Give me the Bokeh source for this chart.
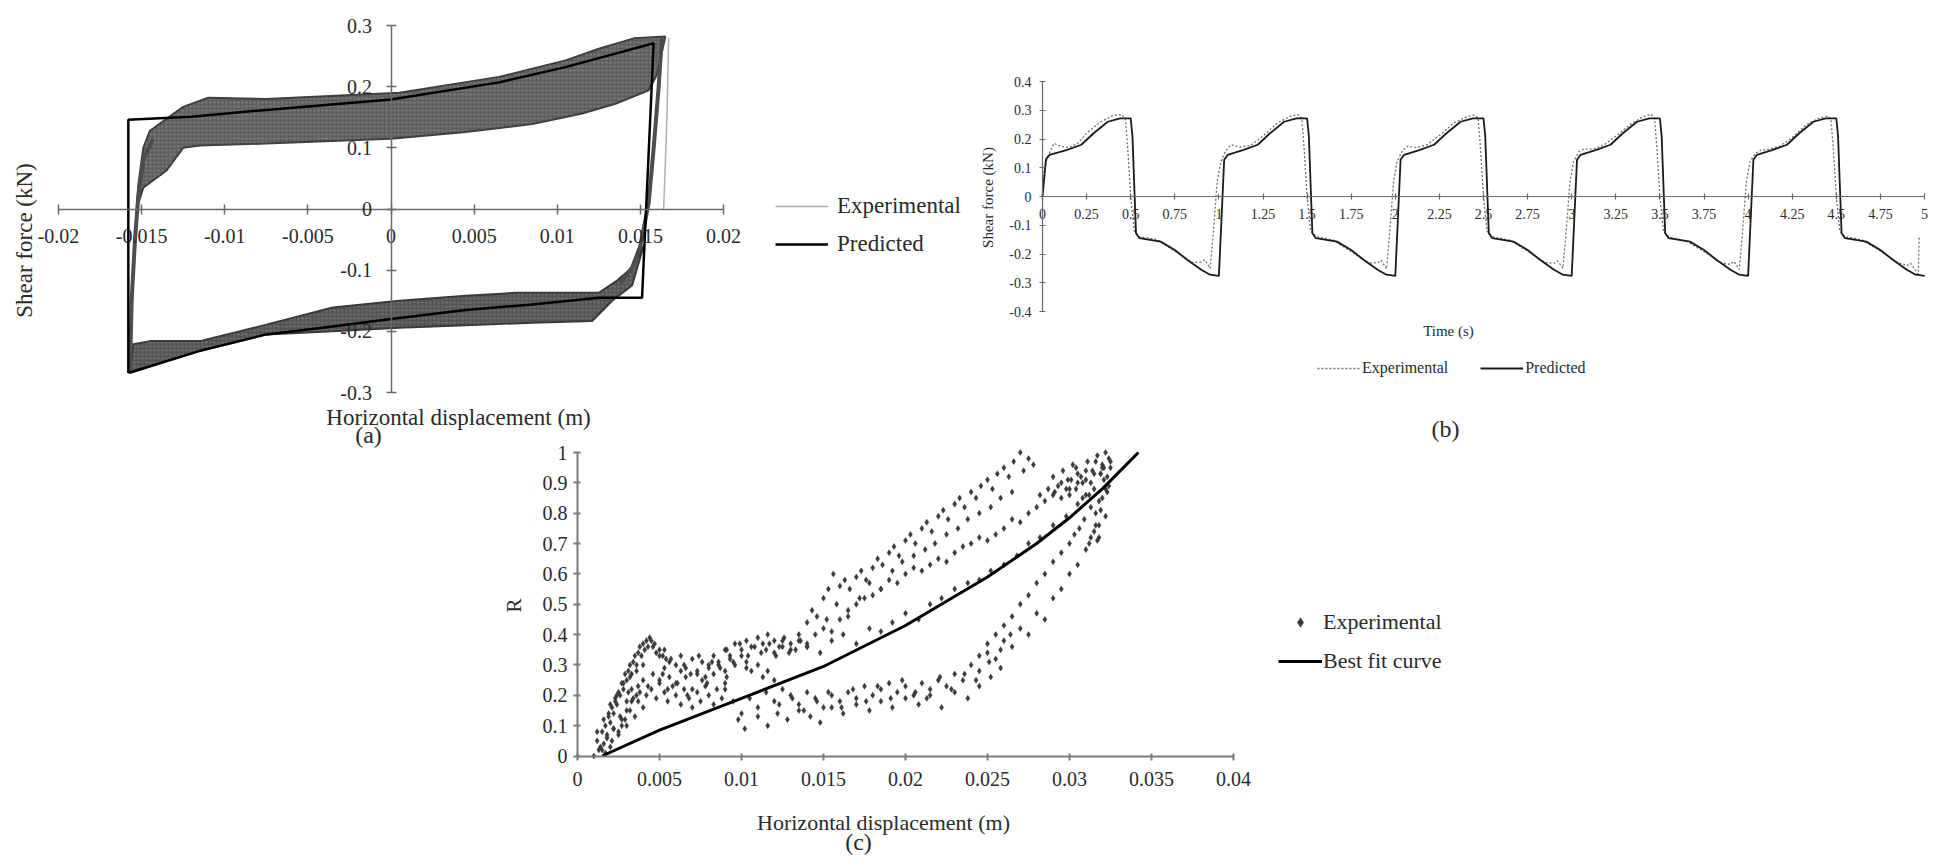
from math import pi
from bokeh.plotting import figure
from bokeh.models import (Range1d, LinearAxis, FixedTicker, CustomJSTickFormatter,
                          Label, Legend, LegendItem)
from bokeh.embed import file_html
from bokeh.resources import INLINE

W, H = 1933, 867
FONT = "Liberation Serif"
TXT = "#2a2a2a"

# ---------------- (a) hysteresis: shear force vs horizontal displacement ----------
a_xticks = [-0.02, -0.015, -0.01, -0.005, 0, 0.005, 0.01, 0.015, 0.02]
a_yticks = [-0.3, -0.2, -0.1, 0, 0.1, 0.2, 0.3]
pred_a_x = [-0.0158, -0.0158, -0.0120, -0.0075, 0.0000, 0.0065, 0.0105, 0.0135, 0.0158,
            0.0151, 0.0125, 0.0085, 0.0045, 0.0000, -0.0035, -0.0075, -0.0115, -0.0158]
pred_a_y = [-0.268, 0.146, 0.151, 0.162, 0.179, 0.207, 0.232, 0.254, 0.271,
            -0.145, -0.145, -0.156, -0.165, -0.180, -0.192, -0.205, -0.232, -0.268]
exp_up_x = [-0.0153, -0.0149, -0.0135, -0.0125, -0.0115, -0.0075, 0.0000, 0.0045, 0.0085,
            0.0115, 0.0135, 0.0155, 0.0160, 0.0165, 0.0146, 0.0125, 0.0105, 0.0065, 0.0005,
            -0.0075, -0.0110, -0.0125, -0.0145, -0.0149, -0.0152]
exp_up_y = [0.000, 0.035, 0.063, 0.100, 0.104, 0.107, 0.115, 0.126, 0.139,
            0.156, 0.172, 0.194, 0.220, 0.282, 0.279, 0.262, 0.243, 0.216, 0.190,
            0.180, 0.182, 0.167, 0.128, 0.100, 0.040]
exp_lo_x = [0.0152, 0.0145, 0.0136, 0.0125, 0.0075, 0.0045, 0.0005, -0.0035, -0.0075,
            -0.0115, -0.0145, -0.0155, -0.0157, -0.0115, -0.0075, -0.0035, 0.0005, 0.0045,
            0.0085, 0.0121, 0.0133, 0.0145]
exp_lo_y = [-0.060, -0.096, -0.117, -0.137, -0.137, -0.142, -0.150, -0.161, -0.189,
            -0.216, -0.216, -0.221, -0.268, -0.232, -0.205, -0.200, -0.194, -0.190,
            -0.186, -0.183, -0.150, -0.125]
exp_r_x = [0.0163, 0.0161, 0.0158, 0.0155, 0.0150, 0.0145, 0.0138]
exp_r_y = [0.282, 0.200, 0.100, 0.010, -0.060, -0.096, -0.120]
exp_l_x = [-0.0157, -0.0156, -0.0154, -0.0152, -0.0149, -0.0143]
exp_l_y = [-0.266, -0.150, -0.050, 0.020, 0.080, 0.115]
exp_f_x = [0.0167, 0.0166, 0.0164]
exp_f_y = [0.280, 0.150, 0.000]

# ---------------- (b) shear force vs time ----------------
b_xticks = [0, 0.25, 0.5, 0.75, 1, 1.25, 1.5, 1.75, 2, 2.25, 2.5, 2.75, 3, 3.25, 3.5,
            3.75, 4, 4.25, 4.5, 4.75, 5]
b_yticks = [-0.4, -0.3, -0.2, -0.1, 0, 0.1, 0.2, 0.3, 0.4]
t_pred_b = [0.00, 0.02, 0.04, 0.14, 0.22, 0.29, 0.37, 0.44, 0.50, 0.51, 0.53, 0.55, 0.67, 0.75, 0.82, 0.90, 0.95, 1.00,
            1.03, 1.05, 1.14, 1.22, 1.29, 1.37, 1.44, 1.50, 1.51, 1.53, 1.55, 1.67, 1.75, 1.82, 1.90, 1.95, 2.00,
            2.03, 2.05, 2.14, 2.22, 2.29, 2.37, 2.44, 2.50, 2.51, 2.53, 2.55, 2.67, 2.75, 2.82, 2.90, 2.95, 3.00,
            3.03, 3.05, 3.14, 3.22, 3.29, 3.37, 3.44, 3.50, 3.51, 3.53, 3.55, 3.67, 3.75, 3.82, 3.90, 3.95, 4.00,
            4.03, 4.05, 4.14, 4.22, 4.29, 4.37, 4.44, 4.50, 4.51, 4.53, 4.55, 4.67, 4.75, 4.82, 4.90, 4.95, 5.00]
v_pred_b = [0.000, 0.130, 0.145, 0.162, 0.180, 0.220, 0.260, 0.272, 0.272, 0.210, -0.128, -0.145, -0.157, -0.186, -0.220, -0.255, -0.272, -0.276,
            0.128, 0.145, 0.162, 0.180, 0.220, 0.260, 0.272, 0.272, 0.210, -0.128, -0.145, -0.157, -0.186, -0.220, -0.255, -0.272, -0.276,
            0.128, 0.145, 0.162, 0.180, 0.220, 0.260, 0.272, 0.272, 0.210, -0.128, -0.145, -0.157, -0.186, -0.220, -0.255, -0.272, -0.276,
            0.128, 0.145, 0.162, 0.180, 0.220, 0.260, 0.272, 0.272, 0.210, -0.128, -0.145, -0.157, -0.186, -0.220, -0.255, -0.272, -0.276,
            0.128, 0.145, 0.162, 0.180, 0.220, 0.260, 0.272, 0.272, 0.210, -0.128, -0.145, -0.157, -0.186, -0.220, -0.255, -0.272, -0.276]
t_exp_b = [0.00, 0.01, 0.03, 0.065, 0.10, 0.15, 0.20, 0.25, 0.33, 0.40, 0.45, 0.47, 0.485, 0.50, 0.52, 0.55, 0.60, 0.65, 0.75, 0.85, 0.90, 0.92, 0.95, 0.965, 0.98, 0.99,
           1.01, 1.04, 1.07, 1.12, 1.18, 1.25, 1.33, 1.40, 1.45, 1.47, 1.485, 1.50, 1.52, 1.55, 1.60, 1.65, 1.75, 1.85, 1.90, 1.92, 1.95, 1.965, 1.98, 1.99,
           2.01, 2.04, 2.07, 2.12, 2.18, 2.25, 2.33, 2.40, 2.45, 2.47, 2.485, 2.50, 2.52, 2.55, 2.60, 2.65, 2.75, 2.85, 2.90, 2.92, 2.95, 2.965, 2.98, 2.99,
           3.01, 3.04, 3.07, 3.12, 3.18, 3.25, 3.33, 3.40, 3.45, 3.47, 3.485, 3.50, 3.52, 3.55, 3.60, 3.65, 3.75, 3.85, 3.90, 3.92, 3.95, 3.965, 3.98, 3.99,
           4.01, 4.04, 4.07, 4.12, 4.18, 4.25, 4.33, 4.40, 4.45, 4.47, 4.485, 4.50, 4.52, 4.55, 4.60, 4.65, 4.75, 4.85, 4.90, 4.92, 4.95, 4.965, 4.97]
v_exp_b = [0.000, 0.100, 0.140, 0.185, 0.175, 0.170, 0.185, 0.220, 0.260, 0.282, 0.285, 0.270, 0.150, 0.000, -0.120, -0.140, -0.145, -0.150, -0.190, -0.230, -0.228, -0.220, -0.250, -0.150, -0.030, 0.050,
           0.120, 0.160, 0.180, 0.172, 0.178, 0.210, 0.255, 0.278, 0.285, 0.272, 0.150, 0.000, -0.120, -0.140, -0.145, -0.152, -0.192, -0.232, -0.230, -0.222, -0.252, -0.150, -0.030, 0.050,
           0.120, 0.160, 0.175, 0.170, 0.180, 0.212, 0.255, 0.276, 0.284, 0.272, 0.150, 0.000, -0.120, -0.140, -0.146, -0.152, -0.190, -0.230, -0.232, -0.224, -0.250, -0.150, -0.030, 0.050,
           0.120, 0.155, 0.165, 0.165, 0.178, 0.210, 0.250, 0.276, 0.286, 0.272, 0.150, 0.000, -0.120, -0.140, -0.148, -0.155, -0.192, -0.232, -0.236, -0.226, -0.254, -0.150, -0.030, 0.050,
           0.120, 0.150, 0.160, 0.165, 0.175, 0.205, 0.250, 0.272, 0.280, 0.268, 0.150, 0.000, -0.120, -0.140, -0.145, -0.152, -0.190, -0.230, -0.240, -0.232, -0.258, -0.270, -0.140]

# ---------------- (c) R vs horizontal displacement ----------------
c_xticks = [0, 0.005, 0.01, 0.015, 0.02, 0.025, 0.03, 0.035, 0.04]
c_yticks = [0, 0.1, 0.2, 0.3, 0.4, 0.5, 0.6, 0.7, 0.8, 0.9, 1.0]
fit_x = [0.0015, 0.005, 0.010, 0.015, 0.020, 0.025, 0.028, 0.030, 0.032, 0.0342]
fit_y = [0.0, 0.085, 0.19, 0.295, 0.43, 0.59, 0.70, 0.785, 0.88, 1.0]
cA_x = [0.0010, 0.0012, 0.0013, 0.0015, 0.0016, 0.0017, 0.0018, 0.0019, 0.0020, 0.0021, 0.0022, 0.0023, 0.0024, 0.0025,
        0.0026, 0.0027, 0.0028, 0.0029, 0.0030, 0.0031, 0.0032, 0.0033, 0.0034, 0.0035, 0.0036, 0.0037, 0.0038, 0.0039,
        0.0040, 0.0041, 0.0042, 0.0043, 0.0044, 0.0045, 0.0046, 0.0047, 0.0048, 0.0050, 0.0052, 0.0054]
cA_y = [0.00, 0.05, 0.02, 0.08, 0.04, 0.10, 0.07, 0.13, 0.11, 0.16, 0.14, 0.19, 0.17, 0.21,
        0.20, 0.24, 0.22, 0.27, 0.25, 0.28, 0.30, 0.27, 0.31, 0.33, 0.30, 0.34, 0.36, 0.33,
        0.37, 0.35, 0.38, 0.36, 0.39, 0.38, 0.36, 0.37, 0.34, 0.35, 0.33, 0.32]
cB_x = [0.0015, 0.0018, 0.0020, 0.0022, 0.0025, 0.0027, 0.0030, 0.0032, 0.0035, 0.0037, 0.0040, 0.0042, 0.0045, 0.0048,
        0.0050, 0.0053, 0.0055, 0.0058, 0.0060, 0.0063, 0.0065, 0.0068, 0.0070, 0.0073, 0.0075, 0.0078, 0.0080, 0.0083,
        0.0085, 0.0088, 0.0090]
cB_y = [0.02, 0.06, 0.03, 0.09, 0.07, 0.12, 0.10, 0.15, 0.13, 0.18, 0.16, 0.20, 0.22, 0.19,
        0.24, 0.21, 0.18, 0.23, 0.20, 0.17, 0.22, 0.19, 0.16, 0.21, 0.18, 0.23, 0.20, 0.17,
        0.22, 0.19, 0.24]
cC_x = [0.0030, 0.0033, 0.0036, 0.0040, 0.0043, 0.0046, 0.0050, 0.0053, 0.0056, 0.0060, 0.0063, 0.0066, 0.0070, 0.0073,
        0.0076, 0.0080, 0.0083, 0.0086, 0.0090, 0.0093, 0.0096, 0.0100, 0.0103, 0.0106, 0.0110, 0.0113, 0.0116, 0.0120]
cC_y = [0.18, 0.22, 0.20, 0.25, 0.23, 0.27, 0.25, 0.29, 0.26, 0.24, 0.28, 0.26, 0.22, 0.27,
        0.25, 0.29, 0.27, 0.30, 0.28, 0.32, 0.30, 0.33, 0.31, 0.28, 0.30, 0.26, 0.28, 0.25]
cD_x = [0.0050, 0.0053, 0.0056, 0.0060, 0.0063, 0.0066, 0.0070, 0.0073, 0.0076, 0.0080, 0.0083, 0.0086, 0.0090, 0.0093,
        0.0096, 0.0100, 0.0103, 0.0106, 0.0110, 0.0113, 0.0116, 0.0120, 0.0123, 0.0126, 0.0130, 0.0133, 0.0136, 0.0140]
cD_y = [0.33, 0.35, 0.31, 0.30, 0.33, 0.29, 0.32, 0.28, 0.31, 0.30, 0.33, 0.31, 0.35, 0.33,
        0.37, 0.35, 0.38, 0.36, 0.39, 0.37, 0.40, 0.38, 0.36, 0.39, 0.37, 0.35, 0.38, 0.36]
cE_x = [0.0135, 0.0140, 0.0143, 0.0146, 0.0150, 0.0153, 0.0156, 0.0160, 0.0163, 0.0166, 0.0170, 0.0173, 0.0176, 0.0180,
        0.0183, 0.0186, 0.0190, 0.0193, 0.0196, 0.0200, 0.0203, 0.0206, 0.0210, 0.0213, 0.0216, 0.0220, 0.0223, 0.0226,
        0.0230, 0.0233, 0.0236, 0.0240, 0.0243, 0.0246, 0.0250, 0.0253, 0.0256, 0.0260, 0.0263, 0.0266, 0.0270, 0.0272,
        0.0275, 0.0278]
cE_y = [0.40, 0.44, 0.48, 0.46, 0.52, 0.55, 0.60, 0.56, 0.58, 0.55, 0.59, 0.61, 0.58, 0.62,
        0.65, 0.63, 0.67, 0.69, 0.66, 0.71, 0.73, 0.70, 0.75, 0.77, 0.74, 0.79, 0.81, 0.78,
        0.83, 0.85, 0.82, 0.87, 0.85, 0.89, 0.91, 0.88, 0.93, 0.95, 0.92, 0.97, 1.00, 0.94,
        0.98, 0.96]
cF_x = [0.0120, 0.0125, 0.0130, 0.0135, 0.0140, 0.0145, 0.0150, 0.0155, 0.0160, 0.0165, 0.0170, 0.0175, 0.0180, 0.0185,
        0.0190, 0.0195, 0.0200, 0.0205, 0.0210, 0.0215, 0.0220, 0.0225, 0.0230, 0.0235, 0.0240, 0.0245, 0.0250, 0.0255,
        0.0260, 0.0265, 0.0270, 0.0275, 0.0280, 0.0285, 0.0290, 0.0295, 0.0300, 0.0305, 0.0310, 0.0315, 0.0320]
cF_y = [0.34, 0.36, 0.35, 0.38, 0.37, 0.40, 0.42, 0.41, 0.45, 0.48, 0.50, 0.52, 0.53, 0.55,
        0.58, 0.57, 0.60, 0.62, 0.61, 0.63, 0.65, 0.64, 0.67, 0.69, 0.70, 0.72, 0.71, 0.73,
        0.75, 0.78, 0.77, 0.80, 0.82, 0.84, 0.86, 0.85, 0.88, 0.90, 0.91, 0.93, 0.95]
cG_x = [0.0140, 0.0148, 0.0155, 0.0162, 0.0170, 0.0178, 0.0185, 0.0192, 0.0200, 0.0208, 0.0215, 0.0222, 0.0230, 0.0238,
        0.0245, 0.0252, 0.0260, 0.0268, 0.0275, 0.0282, 0.0290, 0.0298, 0.0305, 0.0310]
cG_y = [0.36, 0.34, 0.38, 0.40, 0.37, 0.42, 0.41, 0.44, 0.47, 0.45, 0.50, 0.52, 0.55, 0.57,
        0.58, 0.61, 0.63, 0.66, 0.70, 0.72, 0.76, 0.79, 0.83, 0.86]
cH_x = [0.0090, 0.0095, 0.0100, 0.0105, 0.0110, 0.0115, 0.0120, 0.0125, 0.0130, 0.0135, 0.0140, 0.0145, 0.0150, 0.0155,
        0.0160, 0.0165, 0.0170, 0.0175, 0.0180, 0.0185, 0.0190, 0.0195, 0.0200, 0.0205, 0.0210, 0.0215, 0.0220, 0.0225,
        0.0230, 0.0235, 0.0240, 0.0245, 0.0250, 0.0255, 0.0260, 0.0265, 0.0270, 0.0275, 0.0280, 0.0285, 0.0290, 0.0295,
        0.0300, 0.0305, 0.0310, 0.0313, 0.0316, 0.0319, 0.0322, 0.0325]
cH_y = [0.22, 0.18, 0.14, 0.19, 0.16, 0.21, 0.18, 0.22, 0.20, 0.17, 0.21, 0.19, 0.16, 0.20,
        0.18, 0.21, 0.19, 0.23, 0.20, 0.22, 0.24, 0.21, 0.23, 0.20, 0.24, 0.22, 0.25, 0.23,
        0.27, 0.25, 0.30, 0.28, 0.34, 0.32, 0.38, 0.36, 0.42, 0.40, 0.47, 0.45, 0.52, 0.55,
        0.60, 0.63, 0.68, 0.72, 0.76, 0.81, 0.88, 0.95]
cI_x = [0.0098, 0.0102, 0.0110, 0.0116, 0.0122, 0.0128, 0.0135, 0.0142, 0.0148, 0.0155, 0.0162, 0.0170, 0.0178, 0.0185,
        0.0192, 0.0200, 0.0208, 0.0215, 0.0222, 0.0230, 0.0238, 0.0245, 0.0252, 0.0258]
cI_y = [0.12, 0.09, 0.13, 0.10, 0.14, 0.12, 0.15, 0.13, 0.11, 0.16, 0.14, 0.17, 0.15, 0.18,
        0.16, 0.19, 0.17, 0.20, 0.16, 0.21, 0.19, 0.23, 0.26, 0.29]
cJ_x = [0.0245, 0.0250, 0.0255, 0.0260, 0.0265, 0.0270, 0.0275, 0.0280, 0.0285, 0.0290, 0.0295, 0.0300, 0.0303, 0.0306,
        0.0309, 0.0312, 0.0315, 0.0318]
cJ_y = [0.33, 0.37, 0.40, 0.43, 0.46, 0.50, 0.53, 0.57, 0.60, 0.64, 0.67, 0.70, 0.73, 0.75,
        0.78, 0.70, 0.74, 0.72]
cK_x = [0.0290, 0.0293, 0.0296, 0.0299, 0.0302, 0.0305, 0.0308, 0.0311, 0.0314, 0.0317, 0.0320, 0.0322, 0.0324, 0.0312,
        0.0315, 0.0318, 0.0321, 0.0323, 0.0308, 0.0304, 0.0300, 0.0316, 0.0319, 0.0313]
cK_y = [0.92, 0.89, 0.94, 0.91, 0.96, 0.93, 0.90, 0.97, 0.94, 0.99, 0.96, 1.00, 0.98, 0.86,
        0.88, 0.84, 0.91, 0.87, 0.85, 0.88, 0.86, 0.80, 0.93, 0.82]
cL_x = [0.0012, 0.0014, 0.0016, 0.0018, 0.0020, 0.0022, 0.0024, 0.0026, 0.0028, 0.0030, 0.0032, 0.0034, 0.0036,
        0.0038, 0.0040, 0.0017, 0.0021, 0.0025, 0.0029, 0.0033, 0.0037, 0.0019, 0.0023, 0.0027, 0.0031]
cL_y = [0.08, 0.03, 0.12, 0.06, 0.17, 0.09, 0.20, 0.13, 0.24, 0.15, 0.26, 0.19, 0.28,
        0.21, 0.30, 0.01, 0.05, 0.08, 0.12, 0.18, 0.23, 0.14, 0.18, 0.10, 0.21]
cM_x = [0.0052, 0.0057, 0.0061, 0.0065, 0.0069, 0.0074, 0.0078, 0.0082, 0.0087, 0.0091, 0.0095, 0.0099, 0.0104,
        0.0108, 0.0112, 0.0117, 0.0121, 0.0125, 0.0129, 0.0055, 0.0067, 0.0079, 0.0091, 0.0103, 0.0115]
cM_y = [0.27, 0.32, 0.24, 0.30, 0.27, 0.33, 0.26, 0.31, 0.29, 0.35, 0.31, 0.37, 0.33,
        0.36, 0.34, 0.37, 0.33, 0.38, 0.34, 0.22, 0.20, 0.24, 0.26, 0.29, 0.35]
cN_x = [0.0282, 0.0287, 0.0291, 0.0295, 0.0298, 0.0301, 0.0304, 0.0307, 0.0310, 0.0313, 0.0316, 0.0319, 0.0321,
        0.0323, 0.0325, 0.0318, 0.0322, 0.0320, 0.0317, 0.0324]
cN_y = [0.86, 0.88, 0.87, 0.90, 0.88, 0.91, 0.95, 0.92, 0.94, 0.90, 0.97, 0.93, 0.95,
        0.92, 0.97, 0.76, 0.79, 0.85, 0.71, 0.89]
cO_x = [0.0152, 0.0158, 0.0165, 0.0172, 0.0178, 0.0185, 0.0192, 0.0198, 0.0205, 0.0212, 0.0218, 0.0225, 0.0232,
        0.0238, 0.0245, 0.0252, 0.0258, 0.0265]
cO_y = [0.45, 0.50, 0.46, 0.52, 0.57, 0.55, 0.61, 0.64, 0.66, 0.68, 0.70, 0.73, 0.75,
        0.78, 0.80, 0.82, 0.85, 0.87]
cP_x = [0.0123, 0.0131, 0.0138, 0.0146, 0.0153, 0.0161, 0.0168, 0.0176, 0.0183, 0.0191, 0.0198, 0.0206, 0.0213,
        0.0221, 0.0228, 0.0236, 0.0243, 0.0251, 0.0258, 0.0264]
cP_y = [0.17, 0.19, 0.15, 0.18, 0.21, 0.16, 0.22, 0.18, 0.23, 0.19, 0.25, 0.21, 0.19,
        0.26, 0.22, 0.27, 0.25, 0.31, 0.35, 0.40]
exp_c_x = (cA_x + cB_x + cC_x + cD_x + cE_x + cF_x + cG_x + cH_x + cI_x + cJ_x + cK_x
           + cL_x + cM_x + cN_x + cO_x + cP_x)
exp_c_y = (cA_y + cB_y + cC_y + cD_y + cE_y + cF_y + cG_y + cH_y + cI_y + cJ_y + cK_y
           + cL_y + cM_y + cN_y + cO_y + cP_y)


# ---------------- layout helpers (pixel placement of each panel) ----------------
def conv(v0, p0, v1, p1):
    k = (v1 - v0) / (p1 - p0)
    return lambda p: v0 + (p - p0) * k


def rng(f, total):
    a, b = f(0), f(total)
    return Range1d(start=min(a, b), end=max(a, b))


ax = conv(-0.02, 58, 0.02, 723)
ay = conv(0.3, 25, -0.3, 392)
bx = conv(0.0, 1042, 5.0, 1924)
by = conv(0.4, 81, -0.4, 311)
cx = conv(0.0, 577, 0.04, 1233)
cy = conv(1.0, 452, 0.0, 755.5)

p = figure(width=W, height=H, x_range=rng(ax, W), y_range=rng(ay, H),
           output_backend="svg", toolbar_location=None,
           x_axis_location=None, y_axis_location=None, min_border=0,
           outline_line_color=None, background_fill_color="white",
           border_fill_color="white")
p.extra_x_ranges = {"b": rng(bx, W), "c": rng(cx, W)}
p.extra_y_ranges = {"b": rng(by, H), "c": rng(cy, H)}
p.grid.visible = False


def fmt(d):
    return CustomJSTickFormatter(code="return tick.toFixed(%d).replace(/\\.?0+$/, '');" % d)


def add_axis(side, rname, ticks, bounds, digits, size, standoff, color, t_in, t_out, lw):
    axis = LinearAxis(ticker=FixedTicker(ticks=ticks), fixed_location=0, bounds=bounds,
                      x_range_name=rname, y_range_name=rname, formatter=fmt(digits),
                      axis_line_color=color, axis_line_width=lw,
                      major_tick_line_color=color, major_tick_line_width=lw,
                      major_tick_in=t_in, major_tick_out=t_out,
                      minor_tick_line_color=None,
                      major_label_text_font=FONT, major_label_text_font_size=size,
                      major_label_text_color=TXT, major_label_standoff=standoff)
    p.add_layout(axis, side)
    return axis


# (a) axes
add_axis("below", "default", a_xticks, (-0.02, 0.02), 3, "20px", 15, "#6a6a6a", 5, 5, 1.5)
add_axis("left", "default", a_yticks, (-0.3, 0.3), 1, "20px", 14, "#6a6a6a", 5, 5, 1.5)
# (b) axes
add_axis("below", "b", b_xticks, (0, 5), 2, "14px", 9, "#6a6a6a", 3, 3, 1.2)
add_axis("left", "b", b_yticks, (-0.4, 0.4), 1, "14px", 8, "#6a6a6a", 3, 3, 1.2)
# (c) axes
add_axis("below", "c", c_xticks, (0, 0.04), 3, "20px", 12, "#7a7a7a", 3, 4, 2)
add_axis("left", "c", c_yticks, (0, 1), 1, "20px", 6, "#7a7a7a", 3, 4, 2)

# ---------- (a) glyphs ----------
p.patch(exp_up_x, exp_up_y, fill_color="#5f5f5f", line_color="#3f3f3f", line_width=2,
        hatch_pattern="dot", hatch_color="#a5a5a5", hatch_alpha=0.55, hatch_scale=4)
p.patch(exp_lo_x, exp_lo_y, fill_color="#555555", line_color="#3a3a3a", line_width=2,
        hatch_pattern="dot", hatch_color="#9a9a9a", hatch_alpha=0.5, hatch_scale=4)
p.line(exp_r_x, exp_r_y, line_color="#4d4d4d", line_width=4)
p.line(exp_l_x, exp_l_y, line_color="#4d4d4d", line_width=4)
exp_a = p.line(exp_f_x, exp_f_y, line_color="#b0b0b0", line_width=1.5)
pred_a = p.line(pred_a_x, pred_a_y, line_color="black", line_width=2.5)

# ---------- (b) glyphs ----------
exp_b = p.line(t_exp_b, v_exp_b, x_range_name="b", y_range_name="b",
               line_color="#6f6f6f", line_width=1.3, line_dash="2 2")
pred_b = p.line(t_pred_b, v_pred_b, x_range_name="b", y_range_name="b",
                line_color="#1a1a1a", line_width=1.8)

# ---------- (c) glyphs ----------
exp_c = p.scatter(exp_c_x, exp_c_y, x_range_name="c", y_range_name="c", marker="diamond",
                  size=6, fill_color="#3a3a3a", line_color="#3a3a3a", line_width=0.5)
fit_c = p.line(fit_x, fit_y, x_range_name="c", y_range_name="c",
               line_color="black", line_width=3)


# ---------- texts ----------
def label(px, py, text, size, angle=0.0):
    p.add_layout(Label(x=ax(px), y=ay(py), text=text, text_font=FONT, text_font_size=size,
                       text_color=TXT, text_align="center", text_baseline="middle",
                       angle=angle))


label(24, 240, "Shear force (kN)", "23px", pi / 2)
label(458, 417, "Horizontal displacement (m)", "23px")
label(368, 434, "(a)", "24px")
label(987, 197, "Shear force (kN)", "15px", pi / 2)
label(1448, 330, "Time (s)", "15px")
label(1445, 428, "(b)", "24px")
label(513, 605, "R", "21px", pi / 2)
label(883, 822, "Horizontal displacement (m)", "22px")
label(858, 841, "(c)", "24px")


# ---------- legends ----------
def legend(items, loc, size, gw, gh, standoff, spacing, orient="vertical"):
    lg = Legend(items=items, location=loc, orientation=orient,
                label_text_font=FONT, label_text_font_size=size, label_text_color=TXT,
                glyph_width=gw, glyph_height=gh, label_height=gh, label_standoff=standoff,
                spacing=spacing, padding=0, margin=0, border_line_color=None,
                background_fill_alpha=0)
    p.add_layout(lg)


legend([LegendItem(label="Experimental", renderers=[exp_a]),
        LegendItem(label="Predicted", renderers=[pred_a])],
       (775, 867 - 193 - 64), "23px", 53, 26, 9, 12)
legend([LegendItem(label="Experimental", renderers=[exp_b]),
        LegendItem(label="Predicted", renderers=[pred_b])],
       (1317, 867 - 359 - 18), "16px", 43, 18, 2, 32, "horizontal")
legend([LegendItem(label="Experimental", renderers=[exp_c]),
        LegendItem(label="Best fit curve", renderers=[fit_c])],
       (1278, 867 - 613 - 61), "22px", 44, 24, 1, 13)

open("out.html", "w").write(file_html(p, INLINE))
